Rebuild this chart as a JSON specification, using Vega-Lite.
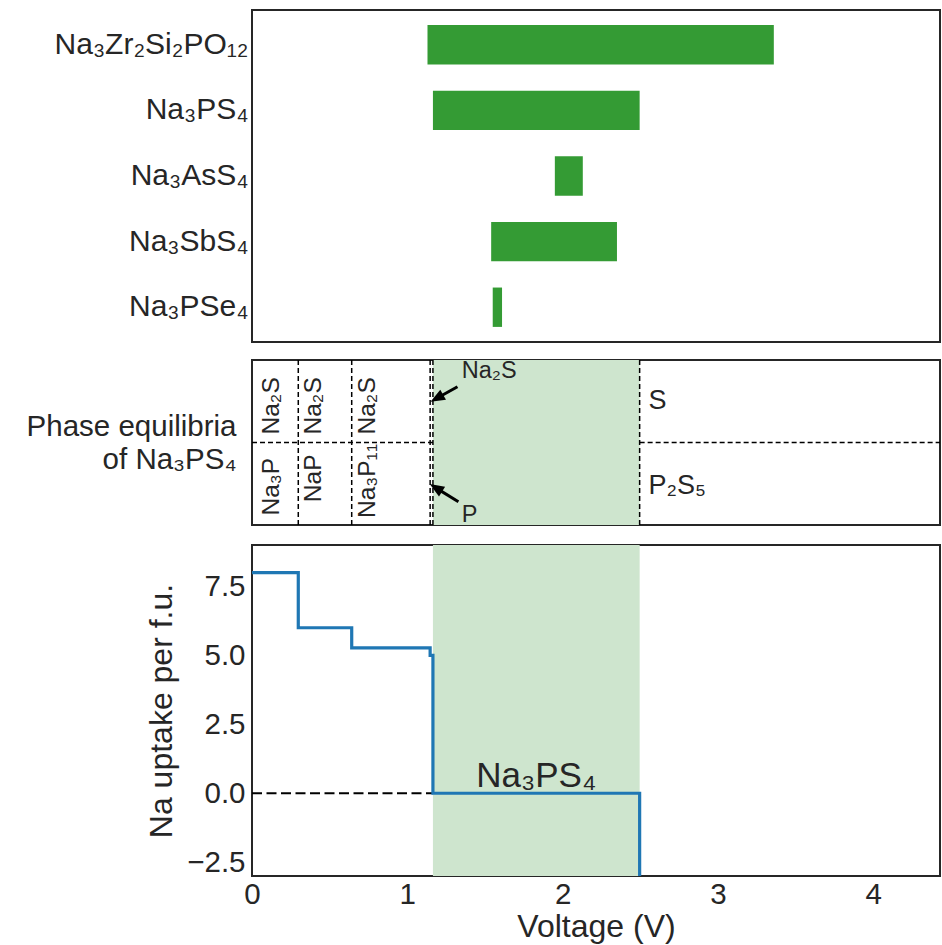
{
  "$schema": "https://vega.github.io/schema/vega-lite/v6.json",
  "padding": {"left": 25, "top": 9, "right": 2, "bottom": 0},
  "background": "white",
  "config": {
    "font": "Liberation Sans",
    "view": {"stroke": "#262626", "strokeWidth": 2},
    "axis": {"labelColor": "#262626", "titleColor": "#262626", "ticks": false, "domain": false, "grid": false, "titleFontWeight": "normal", "labelFont": "Liberation Sans", "titleFont": "Liberation Sans"},
    "text": {"font": "Liberation Sans", "color": "#262626"}
  },
  "datasets": {
    "windows": [
      {"material": "Na₃Zr₂Si₂PO₁₂", "vmin": 1.13, "vmax": 3.36},
      {"material": "Na₃PS₄", "vmin": 1.165, "vmax": 2.496},
      {"material": "Na₃AsS₄", "vmin": 1.95, "vmax": 2.13},
      {"material": "Na₃SbS₄", "vmin": 1.54, "vmax": 2.35},
      {"material": "Na₃PSe₄", "vmin": 1.55, "vmax": 1.61}
    ],
    "steps": [
      {"voltage": 0, "uptake": 8},
      {"voltage": 0.298, "uptake": 6},
      {"voltage": 0.642, "uptake": 5.27},
      {"voltage": 1.147, "uptake": 5},
      {"voltage": 1.165, "uptake": 0},
      {"voltage": 2.496, "uptake": -3}
    ],
    "shade": [{"v1": 1.165, "v2": 2.496}],
    "zero": [{"x1": 0, "x2": 1.165, "y": 0}],
    "bounds": [{"v": 0.298}, {"v": 0.642}, {"v": 1.147}, {"v": 1.165}, {"v": 2.496}],
    "hsegs": [{"x1": 0, "x2": 1.165, "y": 0.5}, {"x1": 2.496, "x2": 4.43, "y": 0.5}],
    "rotlabels": [
      {"text": "Na₂S", "v": 0.127, "y": 0.722},
      {"text": "Na₂S", "v": 0.40, "y": 0.722},
      {"text": "Na₂S", "v": 0.747, "y": 0.722},
      {"text": "Na₃P", "v": 0.127, "y": 0.232},
      {"text": "NaP", "v": 0.40, "y": 0.283},
      {"text": "Na₃P₁₁", "v": 0.747, "y": 0.267}
    ],
    "smalllabels": [
      {"text": "Na₂S", "v": 1.351, "y": 0.889},
      {"text": "P", "v": 1.351, "y": 0.02}
    ],
    "biglabels": [
      {"text": "S", "v": 2.553, "y": 0.701},
      {"text": "P₂S₅", "v": 2.553, "y": 0.188}
    ],
    "arrows": [
      {"name": "Na2S", "x1": 1.323, "y1": 0.838, "x2": 1.19, "y2": 0.768},
      {"name": "P", "x1": 1.329, "y1": 0.141, "x2": 1.184, "y2": 0.225}
    ],
    "phase": [{"text": "Na₃PS₄", "v": 1.83, "y": 0.21}]
  },
  "spacing": 18,
  "bounds": "flush",
  "vconcat": [
    {
      "width": 688,
      "height": 332,
      "data": {"name": "windows"},
      "mark": {"type": "bar", "color": "#349b34"},
      "encoding": {
        "y": {"field": "material", "type": "nominal", "sort": null,
              "scale": {"paddingInner": 0.4, "paddingOuter": 0.23},
              "axis": {"title": null, "labelFontSize": 30, "labelPadding": 4, "labelLimit": 500}},
        "x": {"field": "vmin", "type": "quantitative", "scale": {"domain": [0, 4.43], "nice": false, "zero": false}, "axis": null},
        "x2": {"field": "vmax"}
      }
    },
    {
      "spacing": 20,
      "bounds": "flush",
      "vconcat": [
        {
          "width": 688,
          "height": 165,
          "layer": [
            {
              "data": {"name": "shade"},
              "mark": {"type": "rect", "color": "#cee5ce"},
              "encoding": {
                "x": {"field": "v1", "type": "quantitative", "scale": {"domain": [0, 4.43], "nice": false, "zero": false}, "axis": null},
                "x2": {"field": "v2"}
              }
            },
            {
              "data": {"name": "bounds"},
              "mark": {"type": "rule", "color": "black", "strokeWidth": 1.5, "strokeDash": [5, 3]},
              "encoding": {
                "x": {"field": "v", "type": "quantitative", "scale": {"domain": [0, 4.43], "nice": false, "zero": false}, "axis": null}
              }
            },
            {
              "data": {"name": "hsegs"},
              "mark": {"type": "rule", "color": "black", "strokeWidth": 1.5, "strokeDash": [5, 3]},
              "encoding": {
                "x": {"field": "x1", "type": "quantitative", "scale": {"domain": [0, 4.43], "nice": false, "zero": false}, "axis": null},
                "x2": {"field": "x2"},
                "y": {"field": "y", "type": "quantitative", "scale": {"domain": [0, 1], "nice": false, "zero": false},
                      "axis": {"title": ["Phase equilibria", "of Na₃PS₄"], "labels": false, "minExtent": 0, "maxExtent": 0, "titleAngle": 0, "titleAlign": "right", "titleBaseline": "middle", "titleFontSize": 29.5, "titleLineHeight": 33.3, "titleX": -16, "titleY": 66}}
              }
            },
            {
              "data": {"name": "rotlabels"},
              "mark": {"type": "text", "angle": 270, "align": "center", "baseline": "middle", "fontSize": 24.5, "color": "#262626"},
              "encoding": {
                "x": {"field": "v", "type": "quantitative", "scale": {"domain": [0, 4.43], "nice": false, "zero": false}, "axis": null},
                "y": {"field": "y", "type": "quantitative", "scale": {"domain": [0, 1], "nice": false, "zero": false}, "title": ["Phase equilibria", "of Na₃PS₄"]},
                "text": {"field": "text"}
              }
            },
            {
              "data": {"name": "smalllabels"},
              "mark": {"type": "text", "align": "left", "baseline": "alphabetic", "fontSize": 23.5, "color": "#262626"},
              "encoding": {
                "x": {"field": "v", "type": "quantitative", "scale": {"domain": [0, 4.43], "nice": false, "zero": false}, "axis": null},
                "y": {"field": "y", "type": "quantitative", "scale": {"domain": [0, 1], "nice": false, "zero": false}, "title": ["Phase equilibria", "of Na₃PS₄"]},
                "text": {"field": "text"}
              }
            },
            {
              "data": {"name": "biglabels"},
              "mark": {"type": "text", "align": "left", "baseline": "alphabetic", "fontSize": 27, "color": "#262626"},
              "encoding": {
                "x": {"field": "v", "type": "quantitative", "scale": {"domain": [0, 4.43], "nice": false, "zero": false}, "axis": null},
                "y": {"field": "y", "type": "quantitative", "scale": {"domain": [0, 1], "nice": false, "zero": false}, "title": ["Phase equilibria", "of Na₃PS₄"]},
                "text": {"field": "text"}
              }
            },
            {
              "data": {"name": "arrows"},
              "mark": {"type": "rule", "color": "black", "strokeWidth": 3},
              "encoding": {
                "x": {"field": "x1", "type": "quantitative", "scale": {"domain": [0, 4.43], "nice": false, "zero": false}, "axis": null},
                "x2": {"field": "x2"},
                "y": {"field": "y1", "type": "quantitative", "scale": {"domain": [0, 1], "nice": false, "zero": false}, "title": ["Phase equilibria", "of Na₃PS₄"]},
                "y2": {"field": "y2"}
              }
            },
            {
              "data": {"name": "arrows"},
              "transform": [{"filter": "datum.name == 'Na2S'"}],
              "mark": {"type": "point", "shape": "M0,-1L0.8,1L-0.8,1Z", "size": 210, "filled": true, "color": "black", "opacity": 1, "angle": 240.6},
              "encoding": {
                "x": {"field": "x2", "type": "quantitative", "scale": {"domain": [0, 4.43], "nice": false, "zero": false}, "axis": null},
                "y": {"field": "y2", "type": "quantitative", "scale": {"domain": [0, 1], "nice": false, "zero": false}, "title": ["Phase equilibria", "of Na₃PS₄"]}
              }
            },
            {
              "data": {"name": "arrows"},
              "transform": [{"filter": "datum.name == 'P'"}],
              "mark": {"type": "point", "shape": "M0,-1L0.8,1L-0.8,1Z", "size": 210, "filled": true, "color": "black", "opacity": 1, "angle": 301.6},
              "encoding": {
                "x": {"field": "x2", "type": "quantitative", "scale": {"domain": [0, 4.43], "nice": false, "zero": false}, "axis": null},
                "y": {"field": "y2", "type": "quantitative", "scale": {"domain": [0, 1], "nice": false, "zero": false}, "title": ["Phase equilibria", "of Na₃PS₄"]}
              }
            }
          ]
        },
        {
          "width": 688,
          "height": 331,
          "layer": [
            {
              "data": {"name": "shade"},
              "mark": {"type": "rect", "color": "#cee5ce"},
              "encoding": {
                "x": {"field": "v1", "type": "quantitative", "scale": {"domain": [0, 4.43], "nice": false, "zero": false},
                      "axis": {"title": "Voltage (V)", "values": [0, 1, 2, 3, 4], "format": "d", "labelFlush": false, "labelFontSize": 29.5, "labelPadding": 4, "titleFontSize": 32, "titlePadding": 3}},
                "x2": {"field": "v2"}
              }
            },
            {
              "data": {"name": "zero"},
              "mark": {"type": "rule", "color": "black", "strokeWidth": 2, "strokeDash": [10, 4.5]},
              "encoding": {
                "x": {"field": "x1", "type": "quantitative", "scale": {"domain": [0, 4.43], "nice": false, "zero": false}, "title": "Voltage (V)"},
                "x2": {"field": "x2"},
                "y": {"field": "y", "type": "quantitative", "scale": {"domain": [-3, 9], "nice": false, "zero": false},
                      "axis": {"title": "Na uptake per f.u.", "values": [-2.5, 0, 2.5, 5, 7.5], "format": ".1f", "labelFlush": false, "labelFontSize": 29.5, "labelPadding": 7, "titleFontSize": 32, "titlePadding": 8}}
              }
            },
            {
              "data": {"name": "steps"},
              "mark": {"type": "line", "interpolate": "step-after", "color": "#1f77b4", "strokeWidth": 3.2, "clip": true},
              "encoding": {
                "x": {"field": "voltage", "type": "quantitative", "scale": {"domain": [0, 4.43], "nice": false, "zero": false}, "title": "Voltage (V)"},
                "y": {"field": "uptake", "type": "quantitative", "scale": {"domain": [-3, 9], "nice": false, "zero": false}, "title": "Na uptake per f.u."}
              }
            },
            {
              "data": {"name": "phase"},
              "mark": {"type": "text", "align": "center", "baseline": "alphabetic", "fontSize": 35, "color": "#262626"},
              "encoding": {
                "x": {"field": "v", "type": "quantitative", "scale": {"domain": [0, 4.43], "nice": false, "zero": false}, "title": "Voltage (V)"},
                "y": {"field": "y", "type": "quantitative", "scale": {"domain": [-3, 9], "nice": false, "zero": false}, "title": "Na uptake per f.u."},
                "text": {"field": "text"}
              }
            }
          ]
        }
      ]
    }
  ]
}
